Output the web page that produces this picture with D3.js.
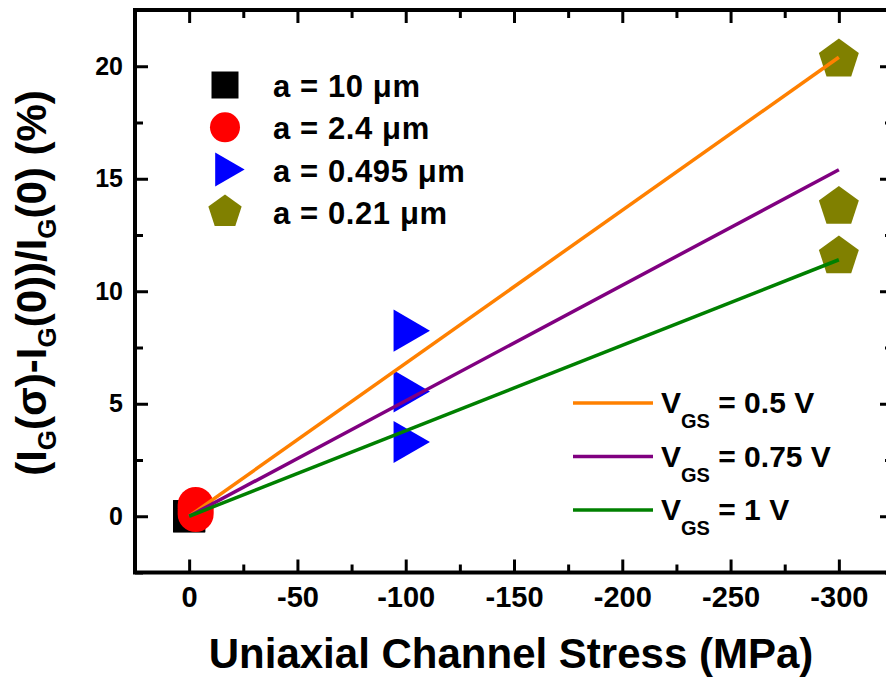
<!DOCTYPE html>
<html>
<head>
<meta charset="utf-8">
<script src="https://cdn.jsdelivr.net/npm/d3@7"></script>
<style>
  body { margin: 0; background: #fff; }
  text { font-family: Arial, "Liberation Sans", sans-serif; font-weight: bold; fill: #000; }
</style>
</head>
<body>
<div id="chart"></div>
<script>
// data
var squareX = [0, 0, 0],       squareY = [0, 0, 0];
var circleX = [-3, -3, -3],    circleY = [0.1, 0.3, 0.5];
var triX = [-100, -100, -100], triY = [8.25, 5.55, 3.3];
var pentX = [-300, -300, -300], pentY = [20.3, 13.75, 11.55];

var sizeLabels = ["a = 10 \u03bcm", "a = 2.4 \u03bcm", "a = 0.495 \u03bcm", "a = 0.21 \u03bcm"];

// linear fits, from origin to -300 MPa
var fitX = [0, -300];
var vgsLabels = ["0.5", "0.75", "1"];
var fitEnd = [20.4, 15.4, 11.4];
var fitColors = ["#ff8000", "#800080", "#008000"];

var xMajor = [0, -50, -100, -150, -200, -250, -300];
var xMinor = [-25, -75, -125, -175, -225, -275];
var yMajor = [0, 5, 10, 15, 20];
var yMinor = [-2.5, 2.5, 7.5, 12.5, 17.5, 22.5];

// set the dimensions and margins of the graph
var margin = {top: 10, left: 135},
    width = 758,
    height = 562.5;

var svg = d3.select("#chart")
  .append("svg")
    .attr("width", 886)
    .attr("height", 684)
  .append("g")
    .attr("transform", "translate(" + margin.left + "," + margin.top + ")");

var x = d3.scaleLinear().domain([25, -325]).range([0, width]);
var y = d3.scaleLinear().domain([-2.5, 22.5]).range([height, 0]);

function styleAxis(g) {
  g.select(".domain").remove();
  g.selectAll(".tick line").attr("stroke", "#000").attr("stroke-width", 3);
}

// plain hyphen for negative labels, like the original
var fmt = function(d) { return String(d); };

// bottom axis with labels
svg.append("g")
  .attr("transform", "translate(0," + height + ")")
  .call(d3.axisBottom(x).tickValues(xMajor).tickSize(-13).tickPadding(14).tickFormat(fmt))
  .call(styleAxis)
  .selectAll("text").style("font-size", "29px").attr("font-family", null);
svg.append("g")
  .attr("transform", "translate(0," + height + ")")
  .call(d3.axisBottom(x).tickValues(xMinor).tickSize(-8).tickFormat(""))
  .call(styleAxis);

// top axis, ticks only
svg.append("g")
  .call(d3.axisTop(x).tickValues(xMajor).tickSize(-13).tickFormat(""))
  .call(styleAxis);
svg.append("g")
  .call(d3.axisTop(x).tickValues(xMinor).tickSize(-8).tickFormat(""))
  .call(styleAxis);

// left axis with labels
svg.append("g")
  .call(d3.axisLeft(y).tickValues(yMajor).tickSize(-13).tickPadding(12))
  .call(styleAxis)
  .selectAll("text").style("font-size", "25px").attr("font-family", null);
svg.append("g")
  .call(d3.axisLeft(y).tickValues(yMinor).tickSize(-8).tickFormat(""))
  .call(styleAxis);

// right axis, ticks only
svg.append("g")
  .attr("transform", "translate(" + width + ",0)")
  .call(d3.axisRight(y).tickValues(yMajor).tickSize(-13).tickFormat(""))
  .call(styleAxis);
svg.append("g")
  .attr("transform", "translate(" + width + ",0)")
  .call(d3.axisRight(y).tickValues(yMinor).tickSize(-8).tickFormat(""))
  .call(styleAxis);

// frame
svg.append("rect")
  .attr("width", width).attr("height", height)
  .attr("fill", "none").attr("stroke", "#000").attr("stroke-width", 4);

// pentagon path with circumradius r, point up
function pentagon(r) {
  var pts = d3.range(5).map(function(i) {
    var a = -Math.PI / 2 + i * 2 * Math.PI / 5;
    return [r * Math.cos(a), r * Math.sin(a)];
  });
  return "M" + pts.join("L") + "Z";
}

var sq = d3.symbol().type(d3.symbolSquare);
var ci = d3.symbol().type(d3.symbolCircle);
var tr = d3.symbol().type(d3.symbolTriangle);

function zip(xs, ys) { return xs.map(function(v, i) { return [v, ys[i]]; }); }

// Add dots
svg.append("g").selectAll("path")
  .data(zip(squareX, squareY)).enter().append("path")
  .attr("d", sq.size(1024)())
  .attr("transform", function(d) { return "translate(" + x(d[0]) + "," + y(d[1]) + ")"; })
  .attr("fill", "#000");

svg.append("g").selectAll("path")
  .data(zip(circleX, circleY)).enter().append("path")
  .attr("d", ci.size(1018)())
  .attr("transform", function(d) { return "translate(" + x(d[0]) + "," + y(d[1]) + ")"; })
  .attr("fill", "#ff0000");

svg.append("g").selectAll("path")
  .data(zip(triX, triY)).enter().append("path")
  .attr("d", tr.size(764)())
  .attr("transform", function(d) { return "translate(" + x(d[0]) + "," + y(d[1]) + ") rotate(90)"; })
  .attr("fill", "#0000ff");

svg.append("g").selectAll("path")
  .data(zip(pentX, pentY)).enter().append("path")
  .attr("d", pentagon(21))
  .attr("transform", function(d) { return "translate(" + x(d[0]) + "," + y(d[1]) + ")"; })
  .attr("fill", "#808000");

// fit lines
var line = d3.line().x(function(d) { return x(d[0]); }).y(function(d) { return y(d[1]); });
fitEnd.forEach(function(v, i) {
  svg.append("path")
    .attr("d", line([[fitX[0], 0], [fitX[1], v]]))
    .attr("stroke", fitColors[i]).attr("stroke-width", 3.5).attr("fill", "none");
});

// marker legend
var legMarks = [
  {d: sq.size(729)(), fill: "#000", rot: 0},
  {d: ci.size(707)(), fill: "#ff0000", rot: 0},
  {d: tr.size(500)(), fill: "#0000ff", rot: 90},
  {d: pentagon(17.5), fill: "#808000", rot: 0}
];
var leg1 = svg.append("g").attr("transform", "translate(90,75)");
sizeLabels.forEach(function(t, i) {
  var row = leg1.append("g").attr("transform", "translate(0," + (i * 42.3) + ")");
  row.append("path").attr("d", legMarks[i].d).attr("fill", legMarks[i].fill)
    .attr("transform", "rotate(" + legMarks[i].rot + ")");
  row.append("text").attr("x", 48).attr("y", 12).style("font-size", "31px")
    .style("letter-spacing", "0.6px").text(t);
});

// line legend
var leg2 = svg.append("g").attr("transform", "translate(438,393)");
vgsLabels.forEach(function(t, i) {
  var row = leg2.append("g").attr("transform", "translate(0," + (i * 53.5) + ")");
  row.append("line").attr("x1", 0).attr("x2", 80)
    .attr("stroke", fitColors[i]).attr("stroke-width", 3.5);
  var tx = row.append("text").attr("x", 88).attr("y", 10).style("font-size", "30px");
  tx.append("tspan").text("V");
  tx.append("tspan").attr("dy", 15).style("font-size", "20px").text("GS");
  tx.append("tspan").attr("dy", -15).text(" = " + t + " V");
});

// axis titles
svg.append("text")
  .attr("x", 376).attr("y", 658)
  .attr("text-anchor", "middle")
  .style("font-size", "42px")
  .text("Uniaxial Channel Stress (MPa)");

var yt = svg.append("text")
  .attr("transform", "translate(-89,273) rotate(-90)")
  .attr("text-anchor", "middle")
  .style("font-size", "42px");
var parts = [["(I", 0], ["G", 1], ["(\u03c3)-I", 0], ["G", 1], ["(0))/I", 0], ["G", 1], ["(0) (%)", 0]];
var shifted = false;
parts.forEach(function(p) {
  var ts = yt.append("tspan").text(p[0]);
  if (p[1]) { ts.attr("dy", 10).style("font-size", "26px"); shifted = true; }
  else if (shifted) { ts.attr("dy", -10); shifted = false; }
});
</script>
</body>
</html>
